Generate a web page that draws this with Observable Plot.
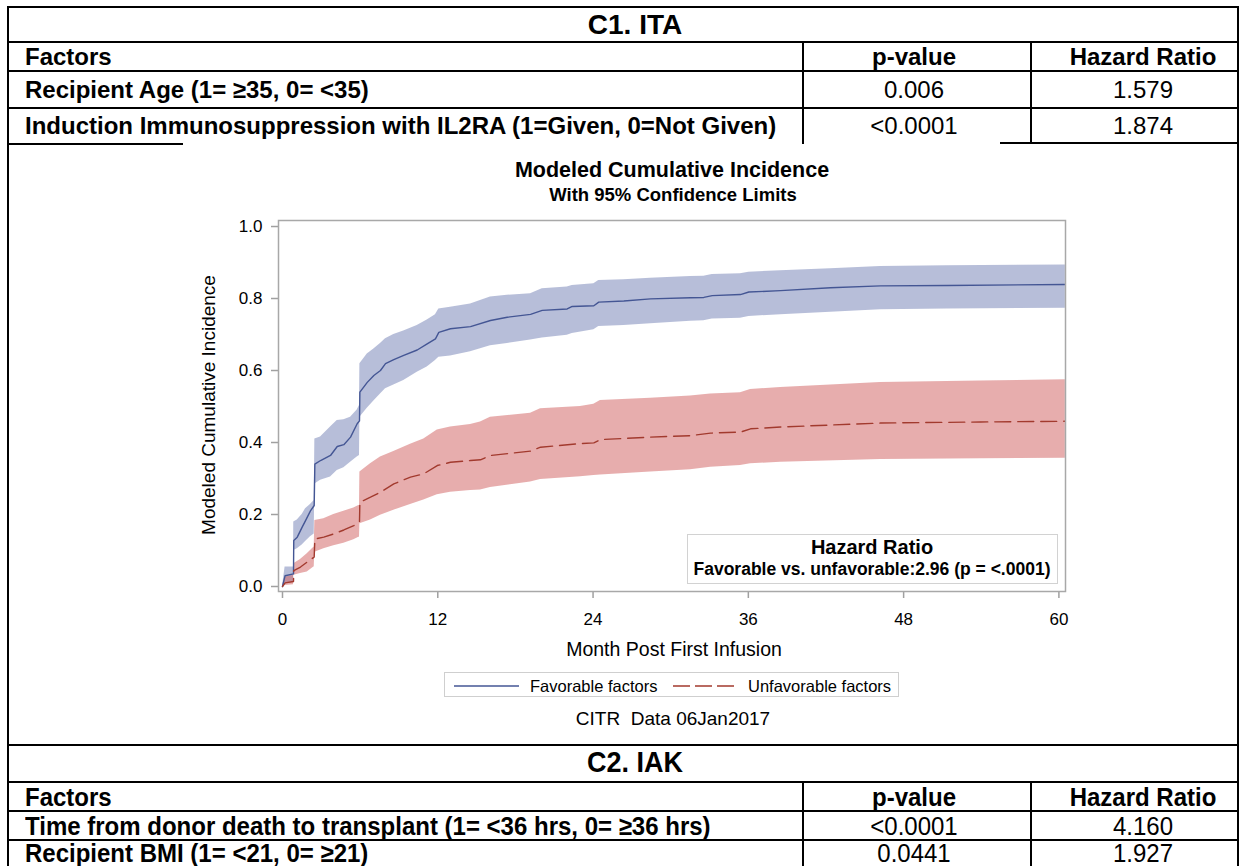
<!DOCTYPE html>
<html>
<head>
<meta charset="utf-8">
<script src="https://cdn.jsdelivr.net/npm/d3@7"></script>
<script src="https://cdn.jsdelivr.net/npm/@observablehq/plot@0.6"></script>
<style>
  html, body { margin: 0; padding: 0; background: #fff; }
  body { width: 1243px; height: 866px; position: relative; overflow: hidden; font-family: "Liberation Sans", Arial, sans-serif; color: #000; }
  .hl { position: absolute; background: #000; height: 2px; }
  .vl { position: absolute; background: #000; width: 2px; }
  .t { position: absolute; white-space: nowrap; line-height: 1; }
  .c { transform: translate(-50%, -50%); }
  .l { transform: translateY(-50%); }
  .b { font-weight: bold; }
  .cond { display: inline-block; transform: scaleY(1.08); }
  #chart { position: absolute; left: 180px; top: 150px; }
  #chart svg [aria-label="x-axis tick"], #chart svg [aria-label="y-axis tick"] { stroke: #a0a0a0; stroke-width: 1.5; }
</style>
</head>
<body>
<div id="page"></div>
<div id="chart"></div>
<script>
// ---------- table data ----------
const c1Title = "C1. ITA";
const c2Title = "C2. IAK";
const headerLabels = ["Factors", "p-value", "Hazard Ratio"];
const c1Factors = ["Recipient Age (1= ≥35, 0= <35)", "Induction Immunosuppression with IL2RA (1=Given, 0=Not Given)"];
const c1PValues = ["0.006", "<0.0001"];
const c1Hazard = ["1.579", "1.874"];
const c2Factors = ["Time from donor death to transplant (1= <36 hrs, 0= ≥36 hrs)", "Recipient BMI (1= <21, 0= ≥21)"];
const c2PValues = ["<0.0001", "0.0441"];
const c2Hazard = ["4.160", "1.927"];

// ---------- chart data ----------
const groups = ["Favorable factors", "Unfavorable factors"];
const favMonths = [0, 0.2, 0.85, 0.87, 1.14, 1.52, 1.78, 2.16, 2.45, 2.5, 2.94, 3.71, 4.23, 4.74, 5.26, 5.77, 5.95, 5.98, 6.55, 7.06, 7.57, 7.96, 8.6, 9.37, 10.41, 11.18, 11.82, 12.08, 12.98, 14.53, 16.07, 17.37, 19.17, 20.07, 22.0, 22.39, 24.06, 24.44, 26.38, 28.44, 31.53, 32.56, 33.21, 35.39, 36.04, 38.49, 42.35, 46.21, 51.37, 60.5];
const favEst = [0, 0.03, 0.035, 0.128, 0.137, 0.165, 0.183, 0.21, 0.225, 0.34, 0.35, 0.364, 0.389, 0.394, 0.415, 0.452, 0.46, 0.54, 0.567, 0.586, 0.6, 0.619, 0.63, 0.642, 0.657, 0.674, 0.688, 0.706, 0.716, 0.722, 0.739, 0.748, 0.756, 0.767, 0.771, 0.778, 0.78, 0.79, 0.793, 0.799, 0.802, 0.803, 0.808, 0.811, 0.818, 0.822, 0.83, 0.835, 0.836, 0.839];
const favUpper = [0, 0.054, 0.054, 0.179, 0.185, 0.2, 0.216, 0.228, 0.239, 0.41, 0.415, 0.443, 0.461, 0.463, 0.47, 0.49, 0.503, 0.619, 0.646, 0.66, 0.675, 0.688, 0.7, 0.71, 0.725, 0.74, 0.755, 0.771, 0.776, 0.785, 0.804, 0.809, 0.813, 0.827, 0.832, 0.836, 0.841, 0.85, 0.852, 0.856, 0.861, 0.862, 0.867, 0.869, 0.873, 0.877, 0.883, 0.889, 0.891, 0.893];
const favLower = [0, 0.01, 0.012, 0.1, 0.105, 0.115, 0.125, 0.138, 0.146, 0.285, 0.295, 0.304, 0.322, 0.33, 0.345, 0.36, 0.364, 0.47, 0.495, 0.515, 0.535, 0.549, 0.56, 0.572, 0.595, 0.61, 0.628, 0.637, 0.64, 0.652, 0.669, 0.675, 0.685, 0.69, 0.698, 0.703, 0.713, 0.722, 0.725, 0.73, 0.737, 0.738, 0.743, 0.745, 0.75, 0.755, 0.762, 0.769, 0.771, 0.773];

const unfMonths = [0, 0.2, 0.85, 0.87, 1.39, 1.91, 2.42, 2.45, 2.5, 3.19, 3.96, 4.74, 5.51, 5.9, 5.95, 5.98, 6.8, 7.57, 8.6, 9.89, 10.92, 11.96, 12.98, 14.53, 15.3, 16.07, 19.17, 19.94, 23.03, 24.06, 24.57, 28.44, 31.53, 33.08, 35.39, 36.17, 38.49, 46.21, 53.94, 60.5];
const unfEst = [0, 0.01, 0.014, 0.044, 0.054, 0.068, 0.081, 0.082, 0.132, 0.137, 0.146, 0.157, 0.169, 0.179, 0.18, 0.234, 0.248, 0.262, 0.285, 0.304, 0.313, 0.336, 0.345, 0.35, 0.352, 0.364, 0.376, 0.387, 0.397, 0.399, 0.408, 0.415, 0.419, 0.426, 0.429, 0.438, 0.443, 0.454, 0.457, 0.459];
const unfUpper = [0, 0.026, 0.031, 0.063, 0.075, 0.091, 0.109, 0.109, 0.183, 0.188, 0.2, 0.209, 0.218, 0.225, 0.225, 0.318, 0.341, 0.36, 0.375, 0.395, 0.41, 0.435, 0.443, 0.45, 0.457, 0.47, 0.481, 0.494, 0.5, 0.506, 0.517, 0.523, 0.529, 0.535, 0.538, 0.547, 0.553, 0.567, 0.571, 0.574];
const unfLower = [0, 0.003, 0.005, 0.031, 0.036, 0.04, 0.054, 0.054, 0.095, 0.105, 0.113, 0.12, 0.13, 0.137, 0.137, 0.174, 0.185, 0.198, 0.212, 0.228, 0.24, 0.255, 0.262, 0.267, 0.268, 0.275, 0.29, 0.297, 0.305, 0.308, 0.31, 0.318, 0.324, 0.331, 0.336, 0.341, 0.345, 0.353, 0.355, 0.356];

const xTicks = [0, 12, 24, 36, 48, 60];
const yTicks = [0, 0.2, 0.4, 0.6, 0.8, 1.0];
const chartTitle = "Modeled Cumulative Incidence";
const chartSubtitle = "With 95% Confidence Limits";
const xLabel = "Month Post First Infusion";
const yLabel = "Modeled Cumulative Incidence";
const hrTitle = "Hazard Ratio";
const hrText = "Favorable vs. unfavorable:2.96 (p = <.0001)";
const caption = "CITR\u00a0\u00a0Data 06Jan2017";

const colors = {fav: "#445694", favFill: "#6F7EB3", unf: "#A23A2E", unfFill: "#D05B5B"};

// ---------- page layout (table) ----------
const page = document.getElementById("page");
function el(cls, style, html) {
  const d = document.createElement("div");
  d.className = cls;
  Object.assign(d.style, style);
  if (html !== undefined) d.innerHTML = html;
  page.appendChild(d);
  return d;
}
function esc(s) { return s.replace(/&/g, "&amp;").replace(/</g, "&lt;").replace(/>/g, "&gt;"); }
const L = 7, R = 1237, S1 = 802, S2 = 1030;
// outer verticals
el("vl", {left: L + "px", top: "6px", height: "870px"});
el("vl", {left: R + "px", top: "6px", height: "870px"});
// C1 horizontal lines
[6, 41, 70, 107].forEach(y => el("hl", {left: L + "px", top: y + "px", width: (R - L + 2) + "px"}));
el("hl", {left: L + "px", top: "143px", width: "176px"});
el("hl", {left: "1000px", top: "142px", width: (R - 1000 + 2) + "px"});
[S1, S2].forEach(x => el("vl", {left: x + "px", top: "41px", height: "103px"}));
// C2 lines
[744, 781, 810, 839].forEach(y => el("hl", {left: L + "px", top: y + "px", width: (R - L + 2) + "px"}));
[S1, S2].forEach(x => el("vl", {left: x + "px", top: "781px", height: "90px"}));

const pCenter = 914, hCenter = 1143, titleCenter = 635;
// C1 text
el("t c b", {left: titleCenter + "px", top: "24.5px", fontSize: "28px"}, esc(c1Title));
const c1Rows = [56.5, 89.5, 125.5];
el("t l b", {left: "25px", top: c1Rows[0] + "px", fontSize: "24px"}, esc(headerLabels[0]));
el("t c b", {left: pCenter + "px", top: c1Rows[0] + "px", fontSize: "24px"}, esc(headerLabels[1]));
el("t c b", {left: hCenter + "px", top: c1Rows[0] + "px", fontSize: "24px"}, esc(headerLabels[2]));
c1Factors.forEach((f, i) => {
  const y = c1Rows[i + 1];
  el("t l b", {left: "25px", top: y + "px", fontSize: "24px"}, esc(f));
  el("t c", {left: pCenter + "px", top: y + "px", fontSize: "24px"}, esc(c1PValues[i]));
  el("t c", {left: hCenter + "px", top: y + "px", fontSize: "24px"}, esc(c1Hazard[i]));
});
// C2 text
const cond = s => `<span class="cond">${esc(s)}</span>`;
el("t c b", {left: titleCenter + "px", top: "763px", fontSize: "27px"}, cond(c2Title));
const c2Rows = [796.5, 825.5, 853];
el("t l b", {left: "25px", top: c2Rows[0] + "px", fontSize: "24px"}, cond(headerLabels[0]));
el("t c b", {left: pCenter + "px", top: c2Rows[0] + "px", fontSize: "24px"}, cond(headerLabels[1]));
el("t c b", {left: hCenter + "px", top: c2Rows[0] + "px", fontSize: "24px"}, cond(headerLabels[2]));
c2Factors.forEach((f, i) => {
  const y = c2Rows[i + 1];
  el("t l b", {left: "25px", top: y + "px", fontSize: "24px"}, cond(f));
  el("t c", {left: pCenter + "px", top: y + "px", fontSize: "24px"}, cond(c2PValues[i]));
  el("t c", {left: hCenter + "px", top: y + "px", fontSize: "24px"}, cond(c2Hazard[i]));
});

// chart texts
el("t c b", {left: "672px", top: "171px", fontSize: "21.5px"}, esc(chartTitle));
el("t c b", {left: "673px", top: "195px", fontSize: "18.5px"}, esc(chartSubtitle));
el("t", {left: "208px", top: "405px", fontSize: "19px", transform: "translate(-50%,-50%) rotate(-90deg)"}, esc(yLabel));
el("t c", {left: "674px", top: "650px", fontSize: "19.5px"}, esc(xLabel));
el("t c", {left: "673px", top: "718px", fontSize: "19px"}, esc(caption));

// legend
const lg = el("", {position: "absolute", left: "444px", top: "672px", width: "455px", height: "25px", border: "1px solid #cfcfcf", boxSizing: "border-box"});
lg.innerHTML = `<svg width="455" height="25" style="position:absolute;left:0;top:0">
  <line x1="9" x2="74" y1="13" y2="13" stroke="${colors.fav}" stroke-width="1.5"/>
  <text x="85" y="13" dy="0.35em" font-size="16.5px" font-family="Liberation Sans, Arial">${groups[0]}</text>
  <line x1="228" x2="292" y1="13" y2="13" stroke="${colors.unf}" stroke-width="1.5" stroke-dasharray="17,5"/>
  <text x="303" y="13" dy="0.35em" font-size="16.5px" font-family="Liberation Sans, Arial">${groups[1]}</text>
</svg>`;

// ---------- chart ----------
const rows = [
  ...favMonths.map((m, i) => ({group: groups[0], month: m, est: favEst[i], lo: favLower[i], hi: favUpper[i]})),
  ...unfMonths.map((m, i) => ({group: groups[1], month: m, est: unfEst[i], lo: unfLower[i], hi: unfUpper[i]}))
];
const fav = rows.filter(d => d.group === groups[0]);
const unf = rows.filter(d => d.group === groups[1]);

const chart = Plot.plot({
  width: 900,
  height: 580,
  marginLeft: 98,
  marginRight: 15,
  marginTop: 70,
  marginBottom: 139,
  style: {fontFamily: "Liberation Sans, Arial, sans-serif", fontSize: "17px", color: "#000", background: "transparent", overflow: "visible"},
  x: {domain: [-0.309, 60.51], ticks: xTicks, tickSize: 7, tickPadding: 14, label: null},
  y: {domain: [-0.0139, 1.0167], ticks: yTicks, tickSize: 7, tickPadding: 9, tickFormat: d3.format(".1f"), label: null},
  marks: [
    Plot.areaY(fav, {x: "month", y1: "lo", y2: "hi", fill: colors.favFill, fillOpacity: 0.5, clip: true}),
    Plot.areaY(unf, {x: "month", y1: "lo", y2: "hi", fill: colors.unfFill, fillOpacity: 0.5, clip: true}),
    Plot.lineY(fav, {x: "month", y: "est", stroke: colors.fav, strokeWidth: 1.4, clip: true}),
    Plot.lineY(unf, {x: "month", y: "est", stroke: colors.unf, strokeWidth: 1.4, strokeDasharray: "16,7", clip: true}),
    Plot.frame({stroke: "#a8a8a8", strokeWidth: 1.5})
  ]
});
document.getElementById("chart").appendChild(chart);

// hazard ratio inset box
el("", {position: "absolute", left: "687px", top: "534px", width: "371px", height: "50px", border: "1.5px solid #d2d2d2", boxSizing: "border-box", background: "#fff"});
el("t c b", {left: "872px", top: "547px", fontSize: "20px"}, esc(hrTitle));
el("t c b", {left: "872px", top: "570px", fontSize: "17.5px"}, esc(hrText));
</script>
</body>
</html>
